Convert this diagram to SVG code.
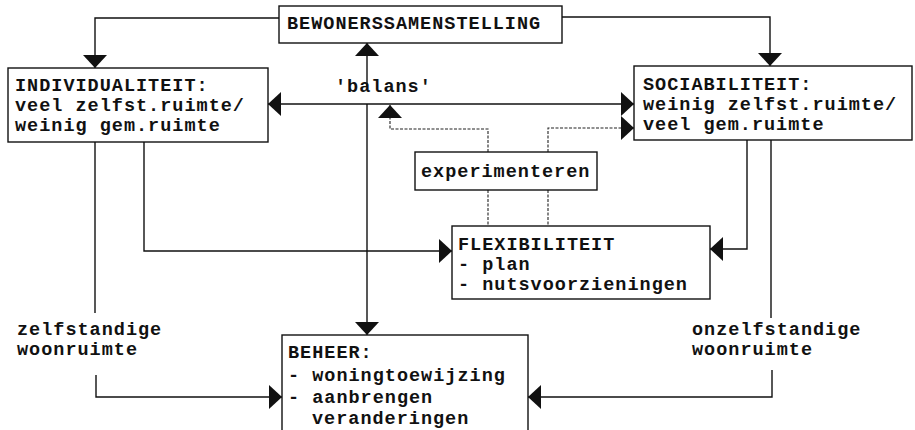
<svg xmlns="http://www.w3.org/2000/svg" width="915" height="430" viewBox="0 0 915 430">
  <style>
    .box { fill: #fff; stroke: #111; stroke-width: 1.4; }
    .t { font-family: "Liberation Mono", "Courier New", monospace; font-size: 18.5px; font-weight: bold; letter-spacing: 1px; fill: #111; }
    .ln { fill: none; stroke: #111; stroke-width: 1.4; }
    .dot { fill: none; stroke: #222; stroke-width: 1.1; stroke-dasharray: 3 1.5; }
  </style>
  <defs>
    <marker id="arr" viewBox="0 0 13 24" refX="13" refY="12" markerWidth="13" markerHeight="24" markerUnits="userSpaceOnUse" orient="auto-start-reverse">
      <path d="M0,0 L13,12 L0,24 z" fill="#111"/>
    </marker>
  </defs>
  <rect width="915" height="430" fill="#fff"/>

  <g id="connectors">
    <path class="ln" d="M279,18 H95 V68" marker-end="url(#arr)"/>
    <path class="ln" d="M562,17 H770 V66" marker-end="url(#arr)"/>
    <path class="ln" d="M268,104 H634" marker-start="url(#arr)" marker-end="url(#arr)"/>
    <path class="ln" d="M367,86 V43" marker-end="url(#arr)"/>
    <path class="ln" d="M367,104 V335" marker-end="url(#arr)"/>
    <path class="dot" d="M488,152 V129 H390 V105" marker-end="url(#arr)"/>
    <path class="dot" d="M548,152 V128 H634" marker-end="url(#arr)"/>
    <path class="dot" d="M488,190 V226 M548,190 V226"/>
    <path class="ln" d="M144,142 V251 H452" marker-end="url(#arr)"/>
    <path class="ln" d="M747,140 V249 H710" marker-end="url(#arr)"/>
    <path class="ln" d="M95,142 V313"/>
    <path class="ln" d="M96,375 V397 H282" marker-end="url(#arr)"/>
    <path class="ln" d="M771,140 V318"/>
    <path class="ln" d="M772,370 V397 H528" marker-end="url(#arr)"/>
  </g>

  <g id="bewonerssamenstelling">
    <rect class="box" x="279" y="6" width="283" height="37"/>
    <text class="t" x="287" y="29">BEWONERSSAMENSTELLING</text>
  </g>

  <g id="individualiteit">
    <rect class="box" x="8" y="68" width="260" height="74"/>
    <text class="t" x="15" y="91">INDIVIDUALITEIT:</text>
    <text class="t" x="15" y="111">veel zelfst.ruimte/</text>
    <text class="t" x="15" y="131">weinig gem.ruimte</text>
  </g>

  <g id="sociabiliteit">
    <rect class="box" x="634" y="66" width="278" height="74"/>
    <text class="t" x="643" y="90">SOCIABILITEIT:</text>
    <text class="t" x="643" y="110">weinig zelfst.ruimte/</text>
    <text class="t" x="643" y="130">veel gem.ruimte</text>
  </g>

  <g id="balans">
    <text class="t" x="335" y="92">'balans'</text>
  </g>

  <g id="experimenteren">
    <rect class="box" x="415" y="152" width="182" height="38"/>
    <text class="t" x="421" y="177">experimenteren</text>
  </g>

  <g id="flexibiliteit">
    <rect class="box" x="452" y="226" width="258" height="73"/>
    <text class="t" x="458" y="250">FLEXIBILITEIT</text>
    <text class="t" x="458" y="270">- plan</text>
    <text class="t" x="458" y="290">- nutsvoorzieningen</text>
  </g>

  <g id="zelfstandige">
    <text class="t" x="17" y="335">zelfstandige</text>
    <text class="t" x="17" y="355">woonruimte</text>
  </g>

  <g id="onzelfstandige">
    <text class="t" x="692" y="335">onzelfstandige</text>
    <text class="t" x="692" y="355">woonruimte</text>
  </g>

  <g id="beheer">
    <rect class="box" x="282" y="335" width="246" height="100"/>
    <text class="t" x="288" y="358">BEHEER:</text>
    <text class="t" x="288" y="381">- woningtoewijzing</text>
    <text class="t" x="288" y="403">- aanbrengen</text>
    <text class="t" x="312" y="424">veranderingen</text>
  </g>
</svg>
